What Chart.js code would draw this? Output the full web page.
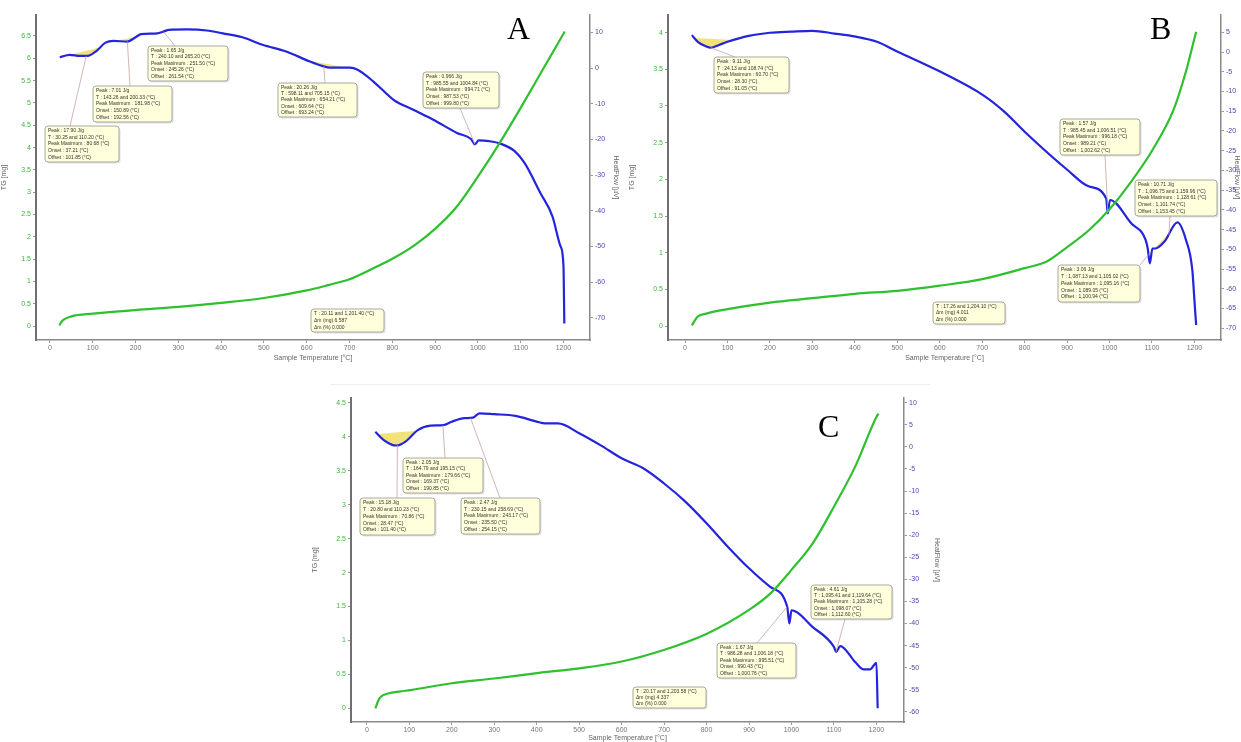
<!DOCTYPE html>
<html>
<head>
<meta charset="utf-8">
<script src="https://cdn.jsdelivr.net/npm/chart.js@4.4.0/dist/chart.umd.min.js"></script>
<style>
body{margin:0;background:#fff;width:1241px;height:742px;position:relative;overflow:hidden;font-family:"Liberation Sans",Arial,sans-serif}
canvas{position:absolute}
.lbl{position:absolute;font-family:"Liberation Serif","Times New Roman",serif;font-size:32px;line-height:1;color:#000}
.sep{position:absolute;left:330px;top:384px;width:600px;height:1px;background:#eee}
</style>
</head>
<body>
<div class="sep"></div>
<canvas id="cA"></canvas>
<canvas id="cB"></canvas>
<canvas id="cC"></canvas>
<div class="lbl" style="left:507px;top:12px">A</div>
<div class="lbl" style="left:1150px;top:12px">B</div>
<div class="lbl" style="left:818px;top:410px">C</div>
<script>
// temperature ticks shared by all three panels
var xTicks = [0, 100, 200, 300, 400, 500, 600, 700, 800, 900, 1000, 1100, 1200];

// ---- panel A ----
var tgTempA = [22, 30, 50, 100, 200, 300, 400, 500, 600, 650, 700, 750, 800, 850, 900, 950, 1000, 1050, 1100, 1150, 1200, 1203];
var tgA = [0.02, 0.13, 0.22, 0.28, 0.36, 0.43, 0.52, 0.63, 0.80, 0.92, 1.05, 1.27, 1.51, 1.80, 2.18, 2.67, 3.35, 4.09, 4.89, 5.72, 6.55, 6.60];
var hfTempA = [23, 46, 70, 88, 107, 130, 148, 181, 200, 213, 251, 265, 278, 320, 367, 404, 450, 497, 552, 608, 636, 654, 701, 719, 756, 803, 849, 896, 951, 984, 993, 1002, 1026, 1053, 1086, 1109, 1146, 1174, 1193, 1200, 1202];
var hfA = [3.0, 3.7, 3.4, 3.4, 4.6, 7.1, 7.6, 7.4, 8.6, 9.5, 9.7, 10.2, 10.7, 10.8, 10.5, 9.7, 8.6, 6.5, 4.6, 1.8, 0.6, 0.1, 0.1, -0.5, -3.8, -8.9, -11.7, -14.5, -18.2, -19.9, -21.4, -20.3, -20.5, -21.2, -23.3, -26.6, -35.0, -41.5, -49.9, -55.4, -71.6];
var tgTicksA = [0, 0.5, 1, 1.5, 2, 2.5, 3, 3.5, 4, 4.5, 5, 5.5, 6, 6.5];
var hfTicksA = [10, 0, -10, -20, -30, -40, -50, -60, -70];
var peaksA = [[30, 118], [148, 200], [603, 700]];

// ---- panel B ----
var tgTempB = [16, 30, 50, 100, 200, 300, 400, 500, 600, 700, 800, 852, 901, 952, 1001, 1051, 1099, 1151, 1180, 1200, 1204];
var tgB = [0.01, 0.13, 0.17, 0.23, 0.32, 0.38, 0.44, 0.48, 0.55, 0.64, 0.79, 0.88, 1.08, 1.31, 1.60, 1.97, 2.38, 2.95, 3.47, 3.92, 4.01];
var hfTempB = [16, 30, 50, 61, 80, 100, 150, 200, 251, 300, 352, 402, 452, 501, 602, 702, 752, 800, 901, 952, 992, 996, 1001, 1051, 1085, 1090, 1095, 1101, 1108, 1129, 1160, 1180, 1195, 1200, 1204];
var hfB = [4.3, 2.6, 1.4, 1.1, 1.8, 2.6, 4.1, 4.9, 5.2, 5.4, 4.7, 3.9, 2.6, 0.1, -5.0, -10.9, -15.1, -20.2, -29.9, -34.1, -37.1, -40.9, -37.5, -43.4, -47.6, -49.8, -53.6, -49.8, -49.8, -48.1, -43.2, -47.6, -55.2, -62.9, -69.2];
var tgTicksB = [0, 0.5, 1, 1.5, 2, 2.5, 3, 3.5, 4];
var hfTicksB = [5, 0, -5, -10, -15, -20, -25, -30, -35, -40, -45, -50, -55, -60, -65, -70];
var peaksB = [[22, 115], [1100, 1150]];

// ---- panel C ----
var tgTempC = [20, 30, 50, 80, 103, 200, 300, 401, 501, 600, 699, 801, 900, 950, 1000, 1050, 1100, 1150, 1200, 1205];
var tgC = [0, 0.15, 0.22, 0.25, 0.27, 0.37, 0.44, 0.52, 0.59, 0.69, 0.86, 1.10, 1.45, 1.69, 2.04, 2.43, 2.97, 3.56, 4.29, 4.34];
var hfTempC = [20, 40, 61, 70, 91, 120, 150, 180, 200, 230, 250, 265, 300, 350, 400, 420, 450, 500, 550, 600, 650, 700, 750, 800, 850, 900, 950, 990, 995, 1000, 1050, 1100, 1105, 1115, 1150, 1170, 1185, 1200, 1203];
var hfC = [3.4, 1.5, 0.4, 0.3, 1.2, 3.8, 4.8, 4.9, 5.7, 6.5, 6.6, 7.6, 7.4, 7.0, 5.7, 5.3, 5.3, 3.1, 0.4, -2.6, -4.8, -8.3, -12.4, -17.3, -22.6, -27.5, -31.7, -36.2, -40.0, -37.0, -40.8, -45.3, -46.4, -45.1, -48.7, -50.4, -50.4, -48.9, -59.2];
var tgTicksC = [0, 0.5, 1, 1.5, 2, 2.5, 3, 3.5, 4, 4.5];
var hfTicksC = [10, 5, 0, -5, -10, -15, -20, -25, -30, -35, -40, -45, -50, -55, -60];
var peaksC = [[25, 118]];

// evaluation boxes (text only, laid out in page pixels)
var notesA = [
  {box: [45, 126, 74, 36], from: [70, 126], at: 85, text: ["Peak : 17.90 J/g", "T : 30.25 and 110.20 (°C)", "Peak Maximum : 80.68 (°C)", "Onset : 37.21 (°C)", "Offset : 101.85 (°C)"]},
  {box: [93, 86, 79, 36], from: [130, 86], at: 181, text: ["Peak : 7.01 J/g", "T : 143.26 and 200.33 (°C)", "Peak Maximum : 181.98 (°C)", "Onset : 150.89 (°C)", "Offset : 192.56 (°C)"]},
  {box: [148, 46, 80, 35], from: [175, 46], at: 265, text: ["Peak : 1.65 J/g", "T : 240.10 and 265.20 (°C)", "Peak Maximum : 251.50 (°C)", "Onset : 245.26 (°C)", "Offset : 261.54 (°C)"]},
  {box: [278, 83, 79, 34], from: [325, 83], at: 640, text: ["Peak : 20.26 J/g", "T : 598.11 and 705.15 (°C)", "Peak Maximum : 654.21 (°C)", "Onset : 609.64 (°C)", "Offset : 693.24 (°C)"]},
  {box: [423, 72, 76, 36], from: [460, 108], at: 993, text: ["Peak : 0.966 J/g", "T : 985.55 and 1004.84 (°C)", "Peak Maximum : 994.71 (°C)", "Onset : 987.53 (°C)", "Offset : 999.80 (°C)"]},
  {box: [311, 309, 73, 23], text: ["T : 20.11 and 1,201.40 (°C)", "Δm (mg) 6.587", "Δm (%) 0.000"]}
];
var notesB = [
  {box: [714, 57, 75, 36], from: [735, 57], at: 61, text: ["Peak : 9.11 J/g", "T : 24.13 and 108.74 (°C)", "Peak Maximum : 60.70 (°C)", "Onset : 28.30 (°C)", "Offset : 91.05 (°C)"]},
  {box: [1060, 119, 80, 36], from: [1105, 155], at: 996, text: ["Peak : 1.57 J/g", "T : 985.45 and 1,006.51 (°C)", "Peak Maximum : 996.18 (°C)", "Onset : 989.21 (°C)", "Offset : 1,002.62 (°C)"]},
  {box: [1135, 180, 82, 36], from: [1170, 216], at: 1140, text: ["Peak : 10.71 J/g", "T : 1,096.75 and 1,159.96 (°C)", "Peak Maximum : 1,128.61 (°C)", "Onset : 1,101.74 (°C)", "Offset : 1,153.45 (°C)"]},
  {box: [1058, 265, 82, 37], from: [1140, 265], at: 1092, text: ["Peak : 3.06 J/g", "T : 1,087.13 and 1,105.02 (°C)", "Peak Maximum : 1,095.16 (°C)", "Onset : 1,089.05 (°C)", "Offset : 1,100.94 (°C)"]},
  {box: [933, 302, 72, 22], text: ["T : 17.26 and 1,204.10 (°C)", "Δm (mg) 4.011", "Δm (%) 0.000"]}
];
var notesC = [
  {box: [360, 498, 75, 37], from: [397, 498], at: 72, text: ["Peak : 15.18 J/g", "T : 20.80 and 110.23 (°C)", "Peak Maximum : 70.86 (°C)", "Onset : 28.47 (°C)", "Offset : 101.40 (°C)"]},
  {box: [403, 458, 80, 35], from: [445, 458], at: 179, text: ["Peak : 2.05 J/g", "T : 164.79 and 195.15 (°C)", "Peak Maximum : 179.66 (°C)", "Onset : 169.37 (°C)", "Offset : 190.85 (°C)"]},
  {box: [461, 498, 79, 36], from: [500, 498], at: 244, text: ["Peak : 2.47 J/g", "T : 230.15 and 258.69 (°C)", "Peak Maximum : 243.17 (°C)", "Onset : 235.50 (°C)", "Offset : 254.15 (°C)"]},
  {box: [717, 643, 79, 35], from: [757, 643], at: 990, text: ["Peak : 1.67 J/g", "T : 986.28 and 1,006.18 (°C)", "Peak Maximum : 995.51 (°C)", "Onset : 990.43 (°C)", "Offset : 1,000.76 (°C)"]},
  {box: [811, 585, 81, 34], from: [845, 619], at: 1105, text: ["Peak : 4.61 J/g", "T : 1,095.41 and 1,119.64 (°C)", "Peak Maximum : 1,105.28 (°C)", "Onset : 1,098.07 (°C)", "Offset : 1,112.60 (°C)"]},
  {box: [633, 687, 73, 21], text: ["T : 20.17 and 1,203.58 (°C)", "Δm (mg) 4.337", "Δm (%) 0.000"]}
];

var panels = [
  {id: "cA", left: 0, top: 0, w: 620, h: 362, padTop: 15, leftW: 36, rightW: 30, xH: 22,
   xMin: -32.5, xMax: 1262, tgMin: -0.31, tgMax: 6.97, hfMin: -76.2, hfMax: 14.85,
   tgT: tgTempA, tg: tgA, hfT: hfTempA, hf: hfA, tgTicks: tgTicksA, hfTicks: hfTicksA, peaks: peaksA, notes: notesA},
  {id: "cB", left: 628, top: 0, w: 613, h: 362, padTop: 15, leftW: 40, rightW: 20, xH: 22,
   xMin: -40.2, xMax: 1262.6, tgMin: -0.19, tgMax: 4.24, hfMin: -73.0, hfMax: 9.4,
   tgT: tgTempB, tg: tgB, hfT: hfTempB, hf: hfB, tgTicks: tgTicksB, hfTicks: hfTicksB, peaks: peaksB, notes: notesB},
  {id: "cC", left: 311, top: 383, w: 630, h: 359, padTop: 15, leftW: 40, rightW: 37, xH: 20,
   xMin: -37.3, xMax: 1265, tgMin: -0.2, tgMax: 4.57, hfMin: -62.3, hfMax: 11.06,
   tgT: tgTempC, tg: tgC, hfT: hfTempC, hf: hfC, tgTicks: tgTicksC, hfTicks: hfTicksC, peaks: peaksC, notes: notesC}
];

function valueAt(ts, vs, t) {
  for (var i = 1; i < ts.length; i++) {
    if (ts[i] >= t) {
      var f = (t - ts[i - 1]) / (ts[i] - ts[i - 1]);
      return vs[i - 1] + f * (vs[i] - vs[i - 1]);
    }
  }
  return vs[vs.length - 1];
}

// yellow peak areas + evaluation boxes
function decor(p) {
  return {
    id: "decor" + p.id,
    beforeDatasetsDraw: function(chart) {
      var ctx = chart.ctx, x = chart.scales.x, hf = chart.scales.hf;
      ctx.save();
      ctx.fillStyle = "#f2e27a";
      p.peaks.forEach(function(r) {
        var pts = [[r[0], valueAt(p.hfT, p.hf, r[0])]];
        p.hfT.forEach(function(t, i) { if (t > r[0] && t < r[1]) pts.push([t, p.hf[i]]); });
        pts.push([r[1], valueAt(p.hfT, p.hf, r[1])]);
        ctx.beginPath();
        pts.forEach(function(q, i) {
          var px = x.getPixelForValue(q[0]), py = hf.getPixelForValue(q[1]);
          if (i) ctx.lineTo(px, py); else ctx.moveTo(px, py);
        });
        ctx.closePath();
        ctx.fill();
      });
      ctx.restore();
    },
    afterDatasetsDraw: function(chart) {
      var ctx = chart.ctx, x = chart.scales.x, hf = chart.scales.hf;
      ctx.save();
      p.notes.forEach(function(n) {
        if (n.at == null) return;
        ctx.strokeStyle = "#c8a2a2";
        ctx.lineWidth = 0.8;
        ctx.beginPath();
        ctx.moveTo(n.from[0] - p.left, n.from[1] - p.top);
        ctx.lineTo(x.getPixelForValue(n.at), hf.getPixelForValue(valueAt(p.hfT, p.hf, n.at)));
        ctx.stroke();
      });
      p.notes.forEach(function(n) {
        var bx = n.box[0] - p.left, by = n.box[1] - p.top, bw = n.box[2], bh = n.box[3];
        ctx.fillStyle = "rgba(0,0,0,0.12)";
        ctx.beginPath(); ctx.roundRect(bx + 1.5, by + 1.5, bw, bh, 3); ctx.fill();
        ctx.fillStyle = "#ffffdc";
        ctx.strokeStyle = "#a8a8a0";
        ctx.lineWidth = 1;
        ctx.beginPath(); ctx.roundRect(bx, by, bw, bh, 3); ctx.fill(); ctx.stroke();
        ctx.fillStyle = "#333";
        ctx.font = "5px 'Liberation Sans', Arial, sans-serif";
        ctx.textBaseline = "middle";
        var lh = (bh - 3) / n.text.length;
        n.text.forEach(function(s, i) { ctx.fillText(s, bx + 3, by + 1.5 + lh * (i + 0.5)); });
      });
      ctx.restore();
    }
  };
}

function tickSet(list) {
  return function(s) { s.ticks = list.map(function(v) { return {value: v}; }); };
}
function plain(v) { return String(v); }

var small = {family: "'Liberation Sans', Arial, sans-serif", size: 7};

panels.forEach(function(p) {
  var cv = document.getElementById(p.id);
  cv.width = p.w; cv.height = p.h;
  cv.style.left = p.left + "px"; cv.style.top = p.top + "px";
  cv.style.width = p.w + "px"; cv.style.height = p.h + "px";

  new Chart(cv, {
    type: "line",
    data: {
      datasets: [
        {label: "TG", yAxisID: "tg", data: p.tgT.map(function(t, i) { return {x: t, y: p.tg[i]}; }),
         borderColor: "#2ec02e", borderWidth: 2.2, pointRadius: 0, cubicInterpolationMode: "monotone", fill: false},
        {label: "HeatFlow", yAxisID: "hf", data: p.hfT.map(function(t, i) { return {x: t, y: p.hf[i]}; }),
         borderColor: "#2424dc", borderWidth: 2.2, pointRadius: 0, cubicInterpolationMode: "monotone", fill: false}
      ]
    },
    options: {
      responsive: false, animation: false, devicePixelRatio: 1,
      layout: {padding: {top: p.padTop, left: 0, right: 0, bottom: 0}},
      plugins: {legend: {display: false}, tooltip: {enabled: false}},
      scales: {
        x: {
          type: "linear", position: "bottom", min: p.xMin, max: p.xMax,
          afterBuildTicks: tickSet(xTicks),
          afterFit: function(s) { s.height = p.xH; },
          ticks: {font: small, color: "#777", padding: 1, maxRotation: 0, autoSkip: false, callback: plain},
          grid: {drawOnChartArea: false, drawTicks: true, tickLength: 3, color: "#999"},
          border: {color: "#8a8a8a", width: 1.5},
          title: {display: true, text: "Sample Temperature [°C]", font: small, color: "#666", padding: 0}
        },
        tg: {
          type: "linear", position: "left", min: p.tgMin, max: p.tgMax,
          afterBuildTicks: tickSet(p.tgTicks),
          afterFit: function(s) { s.width = p.leftW; },
          ticks: {font: small, color: "#3cb83c", padding: 2, callback: plain},
          grid: {drawOnChartArea: false, drawTicks: true, tickLength: 3, color: "#999"},
          border: {color: "#707070", width: 2},
          title: {display: true, text: "TG [mg]", font: small, color: "#666", padding: 0}
        },
        hf: {
          type: "linear", position: "right", min: p.hfMin, max: p.hfMax,
          afterBuildTicks: tickSet(p.hfTicks),
          afterFit: function(s) { s.width = p.rightW; },
          ticks: {font: small, color: "#4848b0", padding: 2, callback: plain},
          grid: {drawOnChartArea: false, drawTicks: true, tickLength: 3, color: "#999"},
          border: {color: "#8a8a8a", width: 1.5},
          title: {display: true, text: "HeatFlow [µV]", font: small, color: "#666", padding: 0}
        }
      }
    },
    plugins: [decor(p)]
  });
});
</script>
</body>
</html>
